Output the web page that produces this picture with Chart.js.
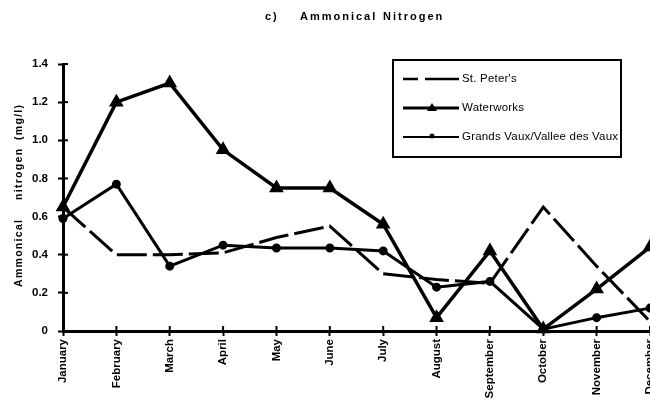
<!DOCTYPE html>
<html>
<head>
<meta charset="utf-8">
<script src="https://cdn.jsdelivr.net/npm/chart.js@4"></script>
<style>
  html, body { margin: 0; padding: 0; background: #fff; overflow: hidden; }
  #wrap { width: 650px; height: 402px; overflow: hidden; }
</style>
</head>
<body>
<div id="wrap"><canvas id="chart" width="700" height="402"></canvas></div>
<script>
const months = ["January", "February", "March", "April", "May", "June",
  "July", "August", "September", "October", "November", "December"];

// mg/l
const stPeters   = [0.65, 0.40, 0.40, 0.41, 0.49, 0.55, 0.30, 0.27, 0.25, 0.65, 0.34, 0.05];
const waterworks = [0.65, 1.20, 1.30, 0.95, 0.75, 0.75, 0.56, 0.07, 0.42, 0.01, 0.22, 0.44];
const grandsVaux = [0.59, 0.77, 0.34, 0.45, 0.435, 0.435, 0.42, 0.23, 0.26, 0.01, 0.07, 0.12];

const yMin = 0, yMax = 1.4, yStep = 0.2;

const FONT = '"Liberation Sans", Arial, Helvetica, sans-serif';

// inner half of the crossing tick marks, titles and the boxed legend
const decorations = {
  id: "decorations",
  beforeDatasetsDraw(chart) {
    const ctx = chart.ctx;
    const { left, bottom } = chart.chartArea;
    const xs = chart.scales.x, ys = chart.scales.y;
    ctx.save();
    ctx.strokeStyle = "#000";
    ctx.lineWidth = 2;
    ys.ticks.forEach(t => {
      const py = ys.getPixelForValue(t.value);
      ctx.beginPath(); ctx.moveTo(left, py); ctx.lineTo(left + 5, py); ctx.stroke();
    });
    months.forEach((m, i) => {
      const px = xs.getPixelForValue(i);
      ctx.beginPath(); ctx.moveTo(px, bottom); ctx.lineTo(px, bottom - 5); ctx.stroke();
    });
    ctx.restore();
  },
  afterDraw(chart) {
    const ctx = chart.ctx;
    ctx.save();
    ctx.fillStyle = "#000";
    ctx.textBaseline = "middle";

    // title
    ctx.font = "bold 11px " + FONT;
    ctx.letterSpacing = "2px";
    ctx.fillText("c)", 265, 17);
    ctx.fillText("Ammonical", 300, 17);
    ctx.fillText("Nitrogen", 383, 17);

    // y axis title
    ctx.font = "bold 10.5px " + FONT;
    ctx.letterSpacing = "1.3px";
    [["Ammonical", 287], ["nitrogen", 200], ["(mg/l)", 140]].forEach(([w, yb]) => {
      ctx.save();
      ctx.translate(19, yb);
      ctx.rotate(-Math.PI / 2);
      ctx.textAlign = "left";
      ctx.fillText(w, 0, 0);
      ctx.restore();
    });

    // legend
    const bx = 393, by = 60, bw = 228, bh = 97;
    ctx.letterSpacing = "0.2px";
    ctx.fillStyle = "#fff";
    ctx.fillRect(bx, by, bw, bh);
    ctx.strokeStyle = "#000";
    ctx.lineWidth = 2;
    ctx.strokeRect(bx, by, bw, bh);

    const rows = [79, 108, 137];
    const x0 = 403, x1 = 459, mx = 432;
    ctx.lineCap = "butt";

    // St. Peter's
    ctx.lineWidth = 2.5;
    ctx.beginPath();
    ctx.moveTo(x0, rows[0]); ctx.lineTo(418, rows[0]);
    ctx.moveTo(425, rows[0]); ctx.lineTo(x1, rows[0]);
    ctx.stroke();

    // Waterworks
    ctx.lineWidth = 3;
    ctx.beginPath(); ctx.moveTo(x0, rows[1]); ctx.lineTo(x1, rows[1]); ctx.stroke();
    ctx.fillStyle = "#000";
    ctx.beginPath();
    ctx.moveTo(mx, rows[1] - 5); ctx.lineTo(mx + 5, rows[1] + 3); ctx.lineTo(mx - 5, rows[1] + 3);
    ctx.closePath(); ctx.fill();

    // Grands Vaux
    ctx.lineWidth = 2;
    ctx.beginPath(); ctx.moveTo(x0, rows[2]); ctx.lineTo(x1, rows[2]); ctx.stroke();
    ctx.beginPath(); ctx.arc(mx, rows[2] - 1, 2.5, 0, Math.PI * 2); ctx.fill();

    ctx.font = "11.5px " + FONT;
    ctx.textAlign = "left";
    chart.data.datasets.forEach((ds, i) => ctx.fillText(ds.label, 462, rows[i]));
    ctx.restore();
  }
};

const axisGrid = {
  drawOnChartArea: false,
  drawTicks: true,
  tickLength: 5,
  tickWidth: 2,
  tickColor: "#000"
};

new Chart(document.getElementById("chart"), {
  type: "line",
  data: {
    labels: months,
    datasets: [
      {
        label: "St. Peter's",
        data: stPeters,
        borderColor: "#000",
        borderWidth: 3,
        borderDash: [30, 6],
        pointRadius: 0,
        tension: 0,
        clip: false
      },
      {
        label: "Waterworks",
        data: waterworks,
        borderColor: "#000",
        borderWidth: 3.5,
        pointStyle: "triangle",
        pointRadius: 5,
        pointBackgroundColor: "#000",
        pointBorderColor: "#000",
        tension: 0,
        clip: false
      },
      {
        label: "Grands Vaux/Vallee des Vaux",
        data: grandsVaux,
        borderColor: "#000",
        borderWidth: 3,
        pointStyle: "circle",
        pointRadius: 3,
        pointBackgroundColor: "#000",
        pointBorderColor: "#000",
        tension: 0,
        clip: false
      }
    ]
  },
  options: {
    responsive: false,
    animation: false,
    devicePixelRatio: 1,
    layout: { padding: { top: 64, right: 50, left: 0, bottom: 0 } },
    plugins: { legend: { display: false }, tooltip: { enabled: false } },
    scales: {
      x: {
        offset: false,
        border: { display: true, color: "#000", width: 3 },
        grid: axisGrid,
        ticks: {
          color: "#000",
          autoSkip: false,
          minRotation: 90,
          maxRotation: 90,
          padding: 3,
          font: { family: FONT, size: 11.5, weight: "bold" }
        },
        afterFit(s) { s.height = 71; }
      },
      y: {
        min: yMin,
        max: yMax,
        border: { display: true, color: "#000", width: 3 },
        grid: axisGrid,
        ticks: {
          stepSize: yStep,
          color: "#000",
          padding: 10,
          font: { family: FONT, size: 11.5, weight: "bold" }
        },
        afterFit(s) { s.width = 63; }
      }
    }
  },
  plugins: [decorations]
});
</script>
</body>
</html>
